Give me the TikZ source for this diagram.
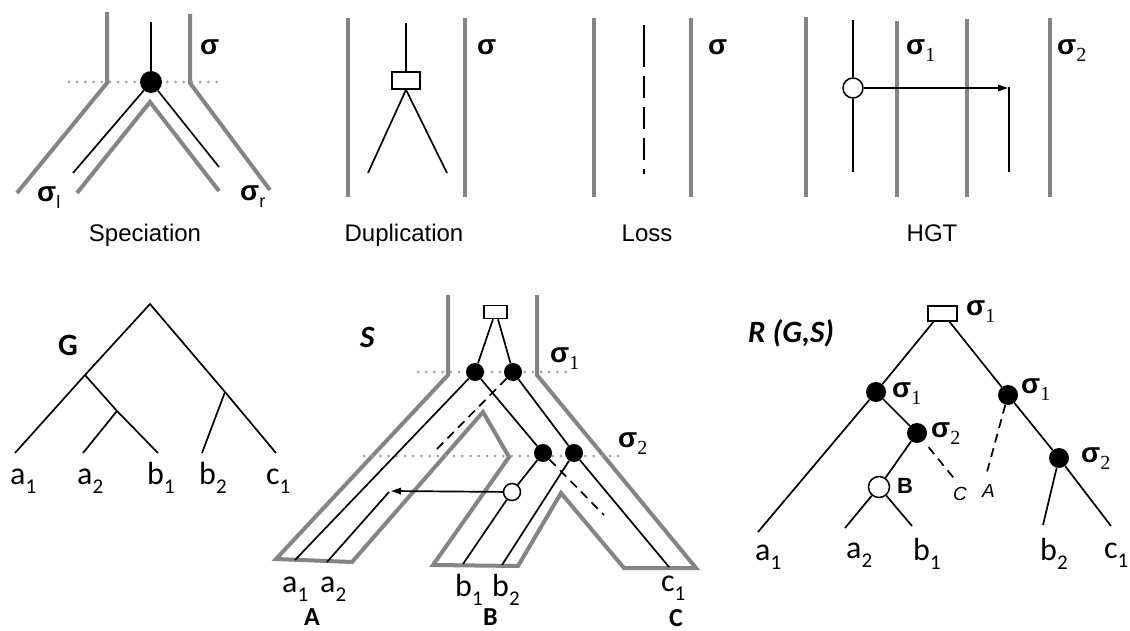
\documentclass[tikz,border=0pt]{standalone}
\usepackage{fontspec}
\setmainfont{Carlito}
\newfontfamily\labelsans{Liberation Sans}
\newfontfamily\subserif{Liberation Serif}
\usetikzlibrary{arrows.meta}

\definecolor{tubegray}{RGB}{132,132,132}
\definecolor{dotgray}{RGB}{160,160,160}

% bold sigma with a serif index
\newcommand{\sigi}[1]{{\labelsans\bfseries\fontsize{28}{28}\selectfont σ}\raisebox{-7pt}{\subserif\fontsize{20}{20}\selectfont #1}}
% bold sigma with a sans index
\newcommand{\sigs}[1]{{\labelsans\bfseries\fontsize{28}{28}\selectfont σ}\raisebox{-7pt}{\labelsans\fontsize{18}{18}\selectfont #1}}
% leaf name with index
\newcommand{\lf}[2]{{\fontsize{32}{32}\selectfont #1}\raisebox{-9pt}{\fontsize{21}{21}\selectfont #2}}

\tikzset{
  tube/.style={draw=tubegray, line width=4pt},
  gene/.style={draw=black, line width=1.7pt},
  genedash/.style={gene, dash pattern=on 9pt off 6pt},
  rankline/.style={draw=dotgray, line width=3pt, line cap=round, dash pattern=on 0pt off 8.2pt},
  specnode/.style={circle, fill=black, inner sep=0pt, minimum size=#1},
  specnode/.default=20pt,
  hgtnode/.style={circle, draw=black, fill=white, line width=1.5pt, inner sep=0pt, minimum size=#1},
  hgtnode/.default=20pt,
  dupnode/.style={rectangle, draw=black, fill=white, line width=1.5pt, inner sep=0pt},
  arrowtip/.style={-{Triangle[length=10pt,width=6.5pt]}},
  lbl/.style={inner sep=0pt, anchor=base west},
  caption/.style={inner sep=0pt, anchor=base, font={\labelsans\fontsize{24}{24}\selectfont}},
  treename/.style={lbl, font={\fontsize{31}{31}\selectfont\bfseries}},
  cladename/.style={lbl, font={\fontsize{26}{26}\selectfont\bfseries}},
  lostname/.style={lbl, font={\labelsans\itshape\fontsize{19}{19}\selectfont}},
}

\begin{document}
\begin{tikzpicture}[x=1pt,y=-1pt]
\useasboundingbox (0,0) rectangle (1130,631);
\clip (0,0) rectangle (1130,631);
\fill[white] (0,0) rectangle (1130,631);

% ---------------- Speciation ----------------
\draw[tube] (107,12) -- (107,83) -- (17,193);
\draw[tube] (190,14) -- (190,83) -- (270,190);
\draw[tube] (77,193) -- (150,102) -- (219,191);
\draw[rankline] (69,82) -- (221,82);
\node[specnode=22pt] (sp) at (151,82) {};
\coordinate (spTop) at (151,22);
\coordinate (spL) at (73,173);
\coordinate (spR) at (219,167);
\draw[gene] (spTop) -- (sp);
\draw[gene] (sp) -- (spL);
\draw[gene] (sp) -- (spR);
\node[lbl] (spSig) at (200,55) {\sigs{}};
\node[lbl] (spSigL) at (37,202) {\sigs{l}};
\node[lbl] (spSigR) at (240,201) {\sigs{r}};
\node[caption] (capSpec) at (145,242) {Speciation};

% ---------------- Duplication ----------------
\draw[tube] (348,18) -- (348,197);
\draw[tube] (465,18) -- (465,197);
\node[dupnode, minimum width=28pt, minimum height=17pt] (dp) at (406,80.5) {};
\coordinate (dpTop) at (406,23);
\coordinate (dpL) at (368,173);
\coordinate (dpR) at (447,173);
\draw[gene] (dpTop) -- (dp.north);
\draw[gene] (dp.south) -- (dpL);
\draw[gene] (dp.south) -- (dpR);
\node[lbl] (dpSig) at (477,55) {\sigs{}};
\node[caption] (capDup) at (404,242) {Duplication};

% ---------------- Loss ----------------
\draw[tube] (594,18) -- (594,197);
\draw[tube] (691,18) -- (691,197);
\draw[tube] (806,17) -- (806,197);
\coordinate (lsTop) at (644,25);
\coordinate (lsMid) at (644,67);
\coordinate (lsDash) at (644,76);
\coordinate (lsBot) at (644,174);
\draw[gene] (lsTop) -- (lsMid);
\draw[gene, dash pattern=on 22pt off 9pt] (lsDash) -- (lsBot);
\node[lbl] (lsSig) at (708,55) {\sigs{}};
\node[caption] (capLoss) at (647,242) {Loss};

% ---------------- HGT ----------------
\draw[tube] (897,21) -- (897,197);
\draw[tube] (967,19) -- (967,197);
\draw[tube] (1050,18) -- (1050,197);
\node[hgtnode=20pt] (hg) at (853,88) {};
\coordinate (hgTop) at (853,20);
\coordinate (hgBot) at (853,172);
\coordinate (hgTip) at (1008,88);
\coordinate (hgRtop) at (1009,87);
\coordinate (hgRbot) at (1009,172);
\draw[gene] (hgTop) -- (hg);
\draw[gene] (hg) -- (hgBot);
\draw[gene, arrowtip] (hg) -- (hgTip);
\draw[gene] (hgRtop) -- (hgRbot);
\node[lbl] (hgSig1) at (906,55) {\sigi{1}};
\node[lbl] (hgSig2) at (1057,55) {\sigi{2}};
\node[caption] (capHgt) at (932,242) {HGT};

% ---------------- gene tree G ----------------
\coordinate (gR) at (150,304);
\coordinate (gL) at (85,375);
\coordinate (gM) at (117,411);
\coordinate (gN) at (225,392);
\coordinate (ga1) at (15,453);
\coordinate (ga2) at (83,453);
\coordinate (gb1) at (158,453);
\coordinate (gb2) at (202,453);
\coordinate (gc1) at (276,453);
\draw[gene] (ga1) -- (gL) -- (gR) -- (gN) -- (gc1);
\draw[gene] (gL) -- (gM) -- (gb1);
\draw[gene] (gM) -- (ga2);
\draw[gene] (gN) -- (gb2);
\node[treename] (nameG) at (58,355) {G};
\node[lbl] (tGa1) at (10,484) {\lf{a}{1}};
\node[lbl] (tGa2) at (77,484) {\lf{a}{2}};
\node[lbl] (tGb1) at (147,484) {\lf{b}{1}};
\node[lbl] (tGb2) at (199,484) {\lf{b}{2}};
\node[lbl] (tGc1) at (266,484) {\lf{c}{1}};

% ---------------- species tree S with embedded gene tree ----------------
\draw[tube] (448,295) -- (448,375) -- (276,559) -- (352,562) -- (483,412)
  -- (509,457) -- (433,565) -- (518,566) -- (561,493) -- (624,568)
  -- (696,568) -- (537,375) -- (537,295);
\draw[rankline] (418,372) -- (570,372);
\draw[rankline] (364,456) -- (625,456);

\node[dupnode, minimum width=23pt, minimum height=13pt] (dS) at (495.5,312) {};
\node[specnode=18pt] (sA) at (475,372) {};
\node[specnode=18pt] (sB) at (513,372) {};
\node[specnode=18pt] (sC) at (543,453) {};
\node[specnode=18pt] (sD) at (574,453) {};
\node[hgtnode=17pt] (sH) at (512,492) {};
\coordinate (sa1) at (295,560);
\coordinate (sa2) at (327,562);
\coordinate (sa2top) at (389,492);
\coordinate (sTip) at (391,491);
\coordinate (sb1) at (463,564);
\coordinate (sb2) at (502,565);
\coordinate (sc1) at (669,567);
\coordinate (sLossA) at (433,453);
\coordinate (sLossC) at (604,515);

\draw[gene] ([xshift=-2.5pt]dS.south) -- (sA);
\draw[gene] ([xshift=2.5pt]dS.south) -- (sB);
\draw[gene] (sA) -- (sa1);
\draw[gene] (sA) -- (sC);
\draw[genedash] (sB) -- (sLossA);
\draw[gene] (sB) -- (sD);
\draw[gene] (sC) -- (sH);
\draw[gene] (sH) -- (sb1);
\draw[genedash] (sC) -- (sLossC);
\draw[gene] (sD) -- (sb2);
\draw[gene] (sD) -- (sc1);
\draw[gene, arrowtip] (sH) -- (sTip);
\draw[gene] (sa2top) -- (sa2);

\node[treename, font={\fontsize{31}{31}\selectfont\bfseries\itshape}] (nameS) at (360,347) {S};
\node[lbl] (sSig1) at (550,362) {\sigi{1}};
\node[lbl] (sSig2) at (618,447) {\sigi{2}};
\node[lbl] (tSa1) at (282,592) {\lf{a}{1}};
\node[lbl] (tSa2) at (320,592) {\lf{a}{2}};
\node[lbl] (tSb1) at (455,596) {\lf{b}{1}};
\node[lbl] (tSb2) at (492,596) {\lf{b}{2}};
\node[lbl] (tSc1) at (661,591) {\lf{c}{1}};
\node[cladename] (cladeA) at (304,625) {A};
\node[cladename] (cladeB) at (483,625) {B};
\node[cladename] (cladeC) at (669,626) {C};

% ---------------- reconciliation R(G,S) ----------------
\node[dupnode, minimum width=29pt, minimum height=15pt] (dR) at (942.5,313.5) {};
\node[specnode=20pt] (rA) at (876,392) {};
\node[specnode=20pt] (rB) at (1008,395) {};
\node[specnode=20pt] (rC) at (917,433) {};
\node[specnode=20pt] (rD) at (1059,458) {};
\node[hgtnode=21pt] (rH) at (879,487) {};
\coordinate (ra1) at (758,532);
\coordinate (ra2) at (845,528);
\coordinate (rb1) at (912,526);
\coordinate (rb2) at (1043,525);
\coordinate (rc1) at (1111,526);
\coordinate (rLossC) at (957,482);
\coordinate (rLossA) at (987,472);

\draw[gene] ([xshift=-9pt]dR.south) -- (rA);
\draw[gene] ([xshift=7pt]dR.south) -- (rB);
\draw[gene] (rA) -- (ra1);
\draw[gene] (rA) -- (rC);
\draw[gene] (rC) -- (rH);
\draw[gene] (rH) -- (ra2);
\draw[gene] (rH) -- (rb1);
\draw[genedash, shorten <=8pt] (rC) -- (rLossC);
\draw[genedash] (rB) -- (rLossA);
\draw[gene] (rB) -- (rD);
\draw[gene] (rD) -- (rb2);
\draw[gene] (rD) -- (rc1);

\node[treename, font={\fontsize{31}{31}\selectfont\bfseries\itshape}] (nameR) at (748,342) {R (G,S)};
\node[lbl] (rSig0) at (966,315) {\sigi{1}};
\node[lbl] (rSigA) at (892,397) {\sigi{1}};
\node[lbl] (rSigB) at (1021,393) {\sigi{1}};
\node[lbl] (rSigC) at (931,437) {\sigi{2}};
\node[lbl] (rSigD) at (1081,462) {\sigi{2}};
\node[lbl, font={\labelsans\bfseries\fontsize{22}{22}\selectfont}] (rHname) at (897,493) {B};
\node[lostname] (lostC) at (953,500) {C};
\node[lostname] (lostA) at (982,497) {A};
\node[lbl] (tRa1) at (755,560) {\lf{a}{1}};
\node[lbl] (tRa2) at (846,558) {\lf{a}{2}};
\node[lbl] (tRb1) at (913,560) {\lf{b}{1}};
\node[lbl] (tRb2) at (1040,560) {\lf{b}{2}};
\node[lbl] (tRc1) at (1104,558) {\lf{c}{1}};
\end{tikzpicture}
\end{document}
